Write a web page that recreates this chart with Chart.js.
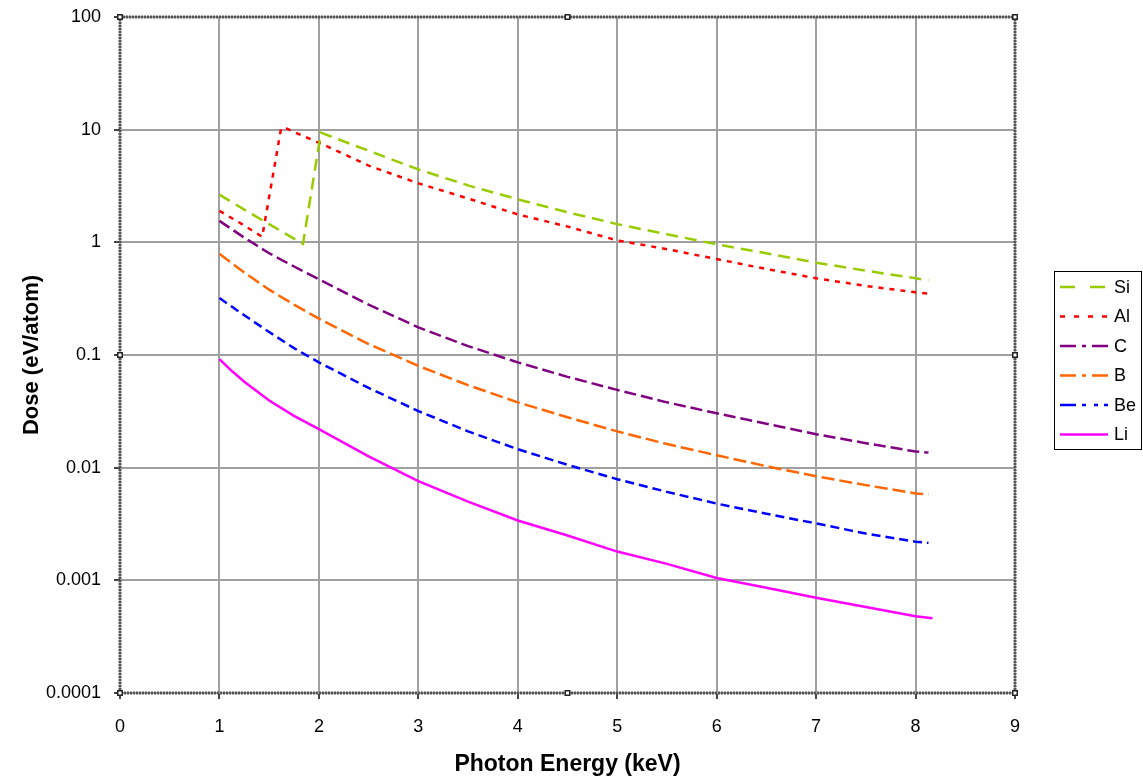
<!DOCTYPE html>
<html>
<head>
<meta charset="utf-8">
<script src="https://cdn.jsdelivr.net/npm/chart.js@4/dist/chart.umd.min.js"></script>
<style>
  html, body { margin: 0; padding: 0; background: #ffffff; }
  #wrap { width: 1143px; height: 778px; }
</style>
</head>
<body>
<div id="wrap"><canvas id="c" width="1143" height="778"></canvas></div>
<script>
// ---- data ----
const xTickLabels = ["0","1","2","3","4","5","6","7","8","9"];
const yTickValues = [0.0001, 0.001, 0.01, 0.1, 1, 10, 100];
const yTickLabels = ["0.0001","0.001","0.01","0.1","1","10","100"];

const seriesNames = ["Si","Al","C","B","Be","Li"];

const siX = [1, 1.25, 1.5, 1.84, 2.02, 2.5, 3, 3.5, 4, 4.5, 5, 5.5, 6, 6.5, 7, 7.5, 8, 8.13];
const siY = [2.65, 1.95, 1.45, 0.97, 9.4, 6.5, 4.44, 3.2, 2.41, 1.85, 1.45, 1.18, 0.96, 0.8, 0.66, 0.56, 0.48, 0.46];

const alX = [1, 1.2, 1.43, 1.62, 1.68, 1.84, 2.04, 2.5, 3, 3.5, 4, 4.5, 5, 5.5, 6, 6.5, 7, 7.5, 8, 8.13];
const alY = [1.9, 1.5, 1.12, 10.3, 10.2, 8.8, 7.4, 4.8, 3.34, 2.45, 1.77, 1.38, 1.04, 0.87, 0.71, 0.58, 0.48, 0.41, 0.36, 0.35];

const energy = [1, 1.25, 1.5, 1.75, 2, 2.5, 3, 3.5, 4, 4.5, 5, 5.5, 6, 6.5, 7, 7.5, 8, 8.13];
const cY  = [1.55, 1.1, 0.80, 0.61, 0.47, 0.28, 0.176, 0.12, 0.086, 0.064, 0.049, 0.038, 0.0304, 0.0245, 0.0198, 0.0165, 0.0139, 0.0136];
const bY  = [0.79, 0.54, 0.38, 0.28, 0.21, 0.125, 0.080, 0.054, 0.038, 0.028, 0.021, 0.0162, 0.0129, 0.0103, 0.0084, 0.0070, 0.0059, 0.0058];
const beY = [0.32, 0.225, 0.16, 0.115, 0.086, 0.051, 0.0318, 0.021, 0.0146, 0.0106, 0.0079, 0.0061, 0.0048, 0.0039, 0.0032, 0.0026, 0.0022, 0.00215];
const liX = [1, 1.125, 1.25, 1.5, 1.75, 2, 2.5, 3, 3.5, 4, 4.5, 5, 5.5, 6, 6.5, 7, 7.5, 8, 8.17];
const liY = [0.092, 0.072, 0.058, 0.0395, 0.0288, 0.022, 0.0126, 0.0076, 0.0050, 0.0034, 0.0025, 0.0018, 0.0014, 0.00105, 0.00086, 0.0007, 0.00058, 0.00048, 0.00046];

// ---- styles ----
const colors = ["#99CC00", "#FF0000", "#800080", "#FF6600", "#0000FF", "#FF00FF"];
const plotDash = [[12,7],[5,6],[12,5],[13,5],[9,5],[]];
const legendDash = [[15,15],[5,9],[16,6,4,6],[16,6,4,6],[16,6,4,8,4,6],[]];

function pts(xs, ys){ return xs.map((x,i)=>({x:x, y:ys[i]})); }
const allData = [pts(siX,siY), pts(alX,alY), pts(energy,cY), pts(energy,bY), pts(energy,beY), pts(liX,liY)];

const datasets = seriesNames.map((n,i)=>({
  label: n,
  data: allData[i],
  borderColor: colors[i],
  backgroundColor: colors[i],
  borderWidth: 2.5,
  borderDash: plotDash[i],
  pointRadius: 0,
  tension: 0,
  fill: false
}));

const FONT = "'Liberation Sans', Arial, sans-serif";

const framePlugin = {
  id: 'frame',
  afterDraw(chart){
    const ctx = chart.ctx;
    const a = chart.chartArea;
    ctx.save();
    // dotted frame
    ctx.strokeStyle = '#555555';
    ctx.lineWidth = 3;
    ctx.setLineDash([2,1]);
    ctx.strokeRect(a.left, a.top, a.right - a.left, a.bottom - a.top);
    ctx.setLineDash([]);
    // handles
    const mx = (a.left + a.right)/2, my = (a.top + a.bottom)/2;
    const hs = [[a.left,a.top],[mx,a.top],[a.right,a.top],[a.left,my],[a.right,my],[a.left,a.bottom],[mx,a.bottom],[a.right,a.bottom]];
    hs.forEach(([x,y])=>{
      ctx.fillStyle = '#222';
      ctx.fillRect(x-3, y-3, 6, 6);
      ctx.fillStyle = '#fff';
      ctx.fillRect(x-1.5, y-1.5, 3, 3);
    });
    // legend
    const lx = 1054, ly = 271, lw = 87, lh = 178;
    ctx.fillStyle = '#fff';
    ctx.fillRect(lx, ly, lw, lh);
    ctx.strokeStyle = '#000';
    ctx.lineWidth = 1;
    ctx.strokeRect(lx + 0.5, ly + 0.5, lw, lh);
    ctx.font = "18px " + FONT;
    ctx.textBaseline = 'middle';
    ctx.textAlign = 'left';
    seriesNames.forEach((n,i)=>{
      const y = 287 + i*29.5;
      ctx.strokeStyle = colors[i];
      ctx.lineWidth = 2.5;
      ctx.setLineDash(legendDash[i]);
      ctx.beginPath();
      ctx.moveTo(1060, y);
      ctx.lineTo(1108, y);
      ctx.stroke();
      ctx.setLineDash([]);
      ctx.fillStyle = '#000';
      ctx.fillText(n, 1114, y + 1);
    });
    ctx.restore();
  }
};

new Chart(document.getElementById('c'), {
  type: 'line',
  data: { datasets: datasets },
  options: {
    responsive: false,
    animation: false,
    layout: { padding: { top: 17, right: 128, left: 0, bottom: 0 } },
    plugins: { legend: { display: false }, tooltip: { enabled: false } },
    scales: {
      x: {
        type: 'linear',
        min: 0, max: 9,
        afterFit(s){ s.height = 85; s.paddingLeft = 0; s.paddingRight = 0; },
        ticks: {
          stepSize: 1,
          color: '#000',
          font: { family: FONT, size: 18 },
          padding: 17,
          maxRotation: 0,
          callback: (v)=> xTickLabels[Math.round(v)] ?? ''
        },
        grid: { color: '#a0a0a0', lineWidth: 2, tickLength: 6, tickColor: '#444' },
        border: { display: false },
        title: {
          display: true,
          text: 'Photon Energy (keV)',
          color: '#000',
          font: { family: FONT, size: 23, weight: 'bold' },
          padding: { top: 0, bottom: 0 }
        }
      },
      y: {
        type: 'logarithmic',
        min: 0.0001, max: 100,
        afterFit(s){ s.width = 120; s.paddingTop = 0; s.paddingBottom = 0; },
        afterBuildTicks(s){ s.ticks = yTickValues.map(v=>({value:v, major:true})); },
        ticks: {
          color: '#000',
          font: { family: FONT, size: 18 },
          padding: 13,
          autoSkip: false,
          callback: (v)=> { const i = yTickValues.findIndex(t=>Math.abs(Math.log10(t)-Math.log10(v))<1e-6); return i>=0 ? yTickLabels[i] : ''; }
        },
        grid: { color: '#a0a0a0', lineWidth: 2, tickLength: 6, tickColor: '#444' },
        border: { display: false },
        title: {
          display: true,
          text: 'Dose (eV/atom)',
          color: '#000',
          font: { family: FONT, size: 22, weight: 'bold' },
          padding: { top: 19, bottom: 0 }
        }
      }
    }
  },
  plugins: [framePlugin]
});
</script>
</body>
</html>
